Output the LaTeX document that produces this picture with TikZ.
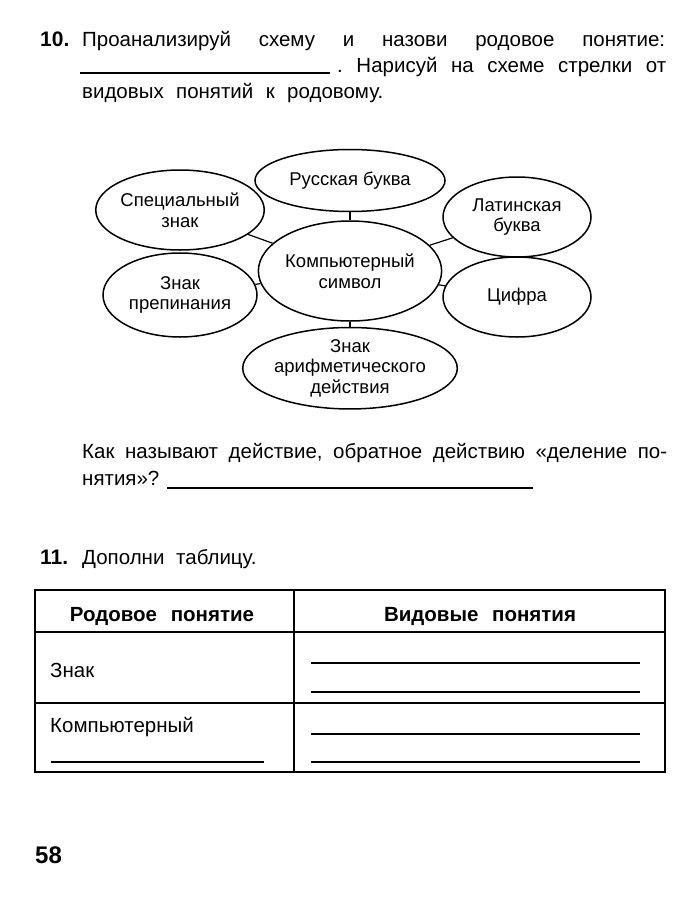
\documentclass[tikz,border=0pt]{standalone}
\usepackage{fontspec}
\setmainfont{Liberation Sans}
\usetikzlibrary{shapes.geometric,positioning}

\begin{document}
\begin{tikzpicture}[x=1pt, y=-1pt,
      txt/.style={anchor=base west, inner sep=0pt, font=\fontsize{20.5}{27}\selectfont},
      num/.style={anchor=base west, inner sep=0pt, font=\fontsize{21}{27}\selectfont\bfseries},
      concept/.style={ellipse, draw, line width=1.5pt, align=center, inner sep=0pt, font=\fontsize{18.5}{20.5}\selectfont},
      link/.style={line width=1.2pt},
      blank/.style={line width=1.1pt},
      head/.style={anchor=base, inner sep=0pt, font=\fontsize{20.5}{24}\selectfont\bfseries}
    ]
      \useasboundingbox (0,0) rectangle (700,902);

      \node[num] (n10) at (40,46) {10.};
      \node[txt] (q1a) at (82,46) {\hbox to 583pt{Проанализируй\hfill схему\hfill и\hfill назови\hfill родовое\hfill понятие:}};
      \draw[blank] (80,73) -- (330,73);
      \node[txt] (q1b) at (337,72) {\hbox to 329pt{.\hfill Нарисуй\hfill на\hfill схеме\hfill стрелки\hfill от}};
      \node[txt] (q1c) at (82,98) {\hbox to 301pt{видовых\hfill понятий\hfill к\hfill родовому.}};

      \node[concept, minimum width=160pt, minimum height=100pt] (sym) at (350,271) {Компьютерный\\символ};
      \node[concept, minimum width=190pt, minimum height=62pt, above=8pt of sym] (rus) {Русская буква};
      \node[concept, minimum width=154pt, minimum height=80pt] (spec) at (180,210) {Специальный\\знак};
      \node[concept, minimum width=148pt, minimum height=80pt] (lat) at (517,217) {Латинская\\буква};
      \node[concept, minimum width=154pt, minimum height=84pt] (punct) at (180,295) {Знак\\препинания};
      \node[concept, minimum width=148pt, minimum height=80pt] (digit) at (517,297) {Цифра};
      \node[concept, minimum width=214pt, minimum height=70pt, below=5pt of sym] (arith) {Знак\\арифметического\\действия};

      \draw[link] (rus) -- (sym);
      \draw[link] (spec) -- (sym);
      \draw[link] (lat) -- (sym);
      \draw[link] (punct) -- (sym);
      \draw[link] (digit) -- (sym);
      \draw[link] (arith) -- (sym);

      \node[txt] (q2a) at (82,458) {\hbox to 585pt{Как\hfill называют\hfill действие,\hfill обратное\hfill действию\hfill «деление\hfill по-}};
      \node[txt] (q2b) at (82,485) {нятия»?};
      \draw[blank] (167,488) -- (533,488);

      \node[num] (n11) at (40,564) {11.};
      \node[txt] (q3) at (82,564) {Дополни\hspace{6pt} таблицу.};

      \draw[line width=1.6pt] (35,590) rectangle (665,772);
      \draw[line width=1.1pt] (35,632) -- (665,632);
      \draw[line width=1.1pt] (35,703) -- (665,703);
      \draw[line width=1.1pt] (294,590) -- (294,772);
      \node[head] (h1) at (162,621) {Родовое\hspace{8pt} понятие};
      \node[head] (h2) at (480,621) {Видовые\hspace{8pt} понятия};
      \node[txt] (r1) at (50,677) {Знак};
      \node[txt] (r2) at (50,732) {Компьютерный};
      \draw[blank] (51,762) -- (264,762);
      \draw[blank] (311,663) -- (640,663);
      \draw[blank] (311,692) -- (640,692);
      \draw[blank] (311,734) -- (640,734);
      \draw[blank] (311,762) -- (640,762);

      \node[anchor=base west, inner sep=0pt, font=\fontsize{24}{28}\selectfont\bfseries] (page) at (35,863) {58};
    \end{tikzpicture}
\end{document}
